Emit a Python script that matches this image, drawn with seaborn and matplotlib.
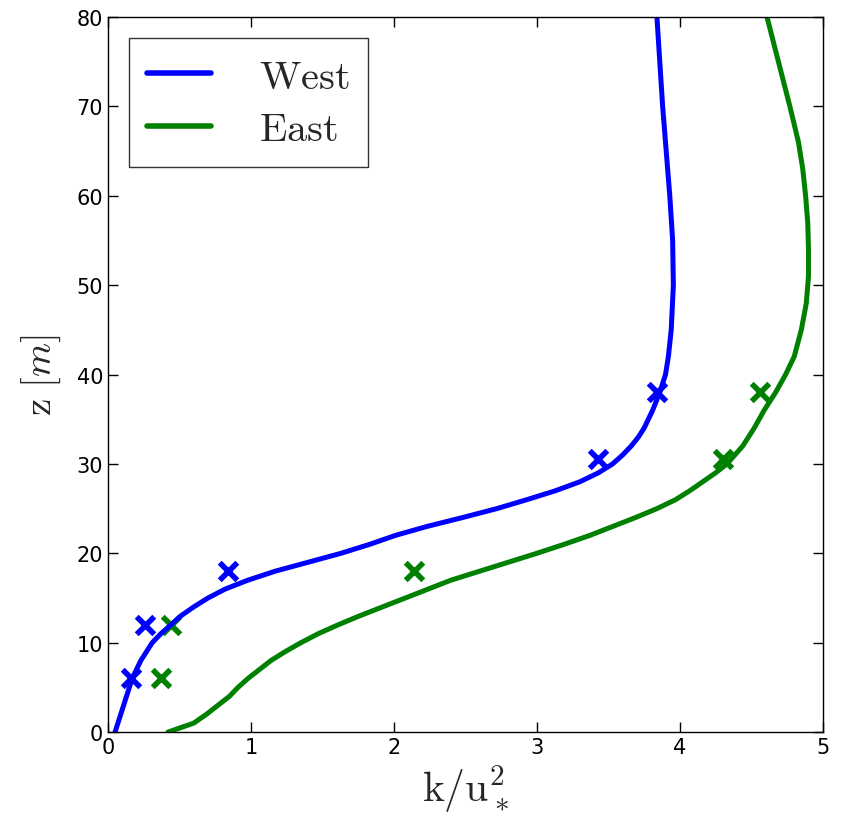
import numpy as np
import pandas as pd
import matplotlib
matplotlib.use("Agg")
import matplotlib.pyplot as plt
import seaborn as sns

# Model profiles (k/u*^2 vs height z)
west_z = [0, 2, 4, 6, 8, 10, 11, 12, 13, 14, 15, 16, 17, 18, 19, 20, 21, 22, 23, 24, 25, 26, 27, 28, 29, 30, 31, 32, 33, 34, 36, 38, 40, 42, 45, 50, 55, 60, 65, 70, 75, 80]
west_k = [0.05, 0.09, 0.13, 0.17, 0.23, 0.31, 0.37, 0.44, 0.51, 0.60, 0.70, 0.82, 0.98, 1.17, 1.40, 1.63, 1.83, 2.01, 2.23, 2.48, 2.72, 2.93, 3.13, 3.30, 3.43, 3.53, 3.60, 3.66, 3.71, 3.75, 3.81, 3.86, 3.90, 3.92, 3.94, 3.955, 3.95, 3.93, 3.905, 3.88, 3.86, 3.84]

east_z = [0, 1, 2, 3, 4, 5, 6, 7, 8, 9, 10, 11, 12, 13, 14, 15, 16, 17, 18, 19, 20, 21, 22, 23, 24, 25, 26, 27, 28, 29, 30, 32, 34, 36, 38, 40, 42, 45, 48, 51, 54, 57, 60, 63, 66, 70, 75, 80]
east_k = [0.42, 0.60, 0.69, 0.77, 0.85, 0.91, 0.98, 1.06, 1.14, 1.24, 1.35, 1.47, 1.61, 1.76, 1.92, 2.08, 2.24, 2.40, 2.60, 2.80, 3.00, 3.19, 3.37, 3.53, 3.69, 3.84, 3.97, 4.07, 4.16, 4.25, 4.33, 4.44, 4.52, 4.59, 4.67, 4.74, 4.80, 4.85, 4.885, 4.90, 4.90, 4.895, 4.88, 4.86, 4.83, 4.77, 4.69, 4.61]

# Measurements
obs_z = [6, 12, 18, 30.5, 38]
west_obs = [0.16, 0.26, 0.84, 3.43, 3.84]
east_obs = [0.37, 0.44, 2.14, 4.30, 4.56]

plt.rcParams['mathtext.fontset'] = 'cm'
sns.set_style("ticks")

fig = plt.figure(figsize=(8.43, 8.2), dpi=100)
ax = fig.add_axes([0.128, 0.106, 0.848, 0.872])

blue = "#0000ff"
green = "#008000"

dfw = pd.DataFrame({"k": west_k, "z": west_z})
dfe = pd.DataFrame({"k": east_k, "z": east_z})
sns.lineplot(data=dfw, x="k", y="z", sort=False, estimator=None, color=blue, lw=3.6, ax=ax, label=r"$\mathrm{West}$")
sns.lineplot(data=dfe, x="k", y="z", sort=False, estimator=None, color=green, lw=3.6, ax=ax, label=r"$\mathrm{East}$")

sns.scatterplot(x=west_obs, y=obs_z, marker="x", s=160, linewidth=4, color=blue, ax=ax, legend=False)
sns.scatterplot(x=east_obs, y=obs_z, marker="x", s=160, linewidth=4, color=green, ax=ax, legend=False)

ax.set_xlim(0, 5)
ax.set_ylim(0, 80)
ax.set_xticks([0, 1, 2, 3, 4, 5])
ax.set_yticks(range(0, 81, 10))
ax.tick_params(direction="in", top=True, right=True, length=7, width=1, labelsize=15, colors="black")
for s in ax.spines.values():
    s.set_color("black")
    s.set_linewidth(1)

ax.set_xlabel(r"$\mathrm{k/u_*^2}$", fontsize=30)
ax.set_ylabel(r"$\mathrm{z}\ [m]$", fontsize=28, labelpad=10)

leg = ax.legend(loc="upper left", fontsize=29, handlelength=1.6, frameon=True, fancybox=False,
                edgecolor="black", borderpad=0.45, labelspacing=0.3, handletextpad=1.2,
                bbox_to_anchor=(0.012, 0.987), borderaxespad=0.3)
leg.get_frame().set_linewidth(1)
for line in leg.get_lines():
    line.set_linewidth(4)

fig.savefig("out.png", dpi=100)
